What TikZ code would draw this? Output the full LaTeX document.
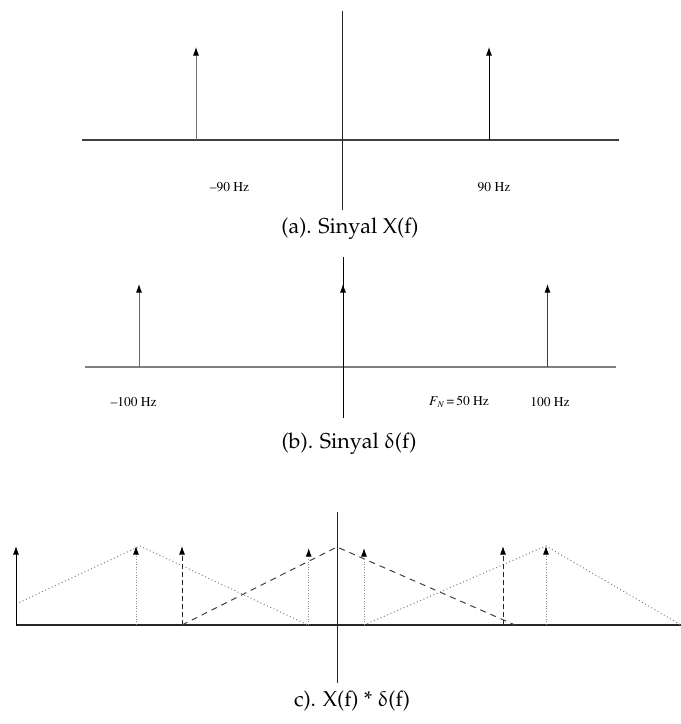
\documentclass[tikz,border=0pt]{standalone}
\usepackage[T1]{fontenc}
\usepackage{upgreek}
\usetikzlibrary{arrows.meta}
\tikzset{
  axisa/.style={line width=1.1pt, draw=black!75},
  axisb/.style={line width=1.4pt, draw=black!50},
  axisc/.style={line width=1.2pt, draw=black!85},
  vaxis/.style={line width=0.9pt, draw=black!85},
  imp/.style={line width=0.9pt, -{Latex[length=8.5pt,width=6pt,black]}},
  dotimp/.style={line width=1pt, draw=black!45, dash pattern=on 1pt off 1.6pt, -{Latex[length=8.5pt,width=6pt,black]}},
  dashimp/.style={line width=1pt, draw=black!85, dash pattern=on 5pt off 3pt, -{Latex[length=8.5pt,width=6pt,black]}},
  dotline/.style={line width=1pt, draw=black!50, dash pattern=on 1pt off 2.6pt},
  dashline/.style={line width=1pt, draw=black!75, dash pattern=on 6pt off 5pt},
  lbl/.style={font=\fontfamily{ptm}\fontsize{13.5}{15}\selectfont, inner sep=0pt},
  captext/.style={font=\fontfamily{ppl}\fontsize{21.5}{25}\selectfont, inner sep=0pt}
}
\begin{document}
\begin{tikzpicture}[x=1pt,y=-1pt]
\useasboundingbox (0,0) rectangle (681,724);
% ---------- (a) ----------
\coordinate (aL) at (82,140);
\coordinate (aR) at (619,140);
\coordinate (aT) at (342,11);
\coordinate (aB) at (342,210);
\coordinate (a1b) at (196,140);
\coordinate (a1t) at (196,47);
\coordinate (a2b) at (489,140);
\coordinate (a2t) at (489,47);
\draw[axisa] (aL) -- (aR);
\draw[vaxis] (aT) -- (aB);
\draw[imp, draw=black!55] (a1b) -- (a1t);
\draw[imp] (a2b) -- (a2t);
\node[lbl] (la1) at (229.5,187) {--90 Hz};
\node[lbl] (la2) at (494,187) {90 Hz};
\node[captext] (capa) at (350,229) {(a). Sinyal X(f)};
% ---------- (b) ----------
\coordinate (bL) at (85,367);
\coordinate (bR) at (616,367);
\coordinate (bT) at (343,257);
\coordinate (bB) at (343,418);
\coordinate (b0b) at (343,367);
\coordinate (b0t) at (343,284);
\coordinate (b1b) at (139,367);
\coordinate (b1t) at (139,284);
\coordinate (b2b) at (547.5,367);
\coordinate (b2t) at (547.5,284);
\draw[axisb] (bL) -- (bR);
\draw[vaxis, draw=black] (bT) -- (bB);
\draw[imp] (b0b) -- (b0t);
\draw[imp, draw=black!60] (b1b) -- (b1t);
\draw[imp, draw=black!75] (b2b) -- (b2t);
\node[lbl] (lb1) at (133.6,402) {--100 Hz};
\node[lbl] (lb2) at (459,402) {\textit{F}\raisebox{-0.35ex}{\fontsize{9}{10}\selectfont\textit{N}}\,=\,50 Hz};
\node[lbl] (lb3) at (550,402) {100 Hz};
\node[captext] (capb) at (349,444) {(b). Sinyal \(\updelta\)(f)};
% ---------- (c) ----------
\coordinate (cL) at (16,625);
\coordinate (cR) at (681,625);
\coordinate (cT) at (337,512);
\coordinate (cB) at (337,683);
\draw[axisc] (cL) -- (cR);
\draw[vaxis] (cT) -- (cB);
% triangles
\coordinate (t1s) at (16,604);
\coordinate (t1p) at (140,546);
\coordinate (t1e) at (308,625);
\coordinate (t2s) at (182,625);
\coordinate (t2p) at (337,547);
\coordinate (t2e) at (515,625);
\coordinate (t3s) at (364,625);
\coordinate (t3p) at (546,546);
\coordinate (t3e) at (681,625);
\draw[dotline] (t1s) -- (t1p) -- (t1e);
\draw[dashline] (t2s) -- (t2p) -- (t2e);
\draw[dotline] (t3s) -- (t3p) -- (t3e);
% impulses
\coordinate (c0b) at (16,625);
\coordinate (c0t) at (16,546);
\coordinate (c1b) at (136,625);
\coordinate (c1t) at (136,546);
\coordinate (c2b) at (182,625);
\coordinate (c2t) at (182,546);
\coordinate (c3b) at (308.7,625);
\coordinate (c3t) at (308.7,548);
\coordinate (c4b) at (364,625);
\coordinate (c4t) at (364,548);
\coordinate (c5b) at (503,625);
\coordinate (c5t) at (503,546);
\coordinate (c6b) at (546,625);
\coordinate (c6t) at (546,546);
\draw[imp] (c0b) -- (c0t);
\draw[dotimp] (c1b) -- (c1t);
\draw[dashimp] (c2b) -- (c2t);
\draw[dotimp] (c3b) -- (c3t);
\draw[dotimp] (c4b) -- (c4t);
\draw[dashimp] (c5b) -- (c5t);
\draw[dotimp] (c6b) -- (c6t);
\node[captext] (capc) at (352,701) {c). X(f) * \(\updelta\)(f)};
\end{tikzpicture}
\end{document}
